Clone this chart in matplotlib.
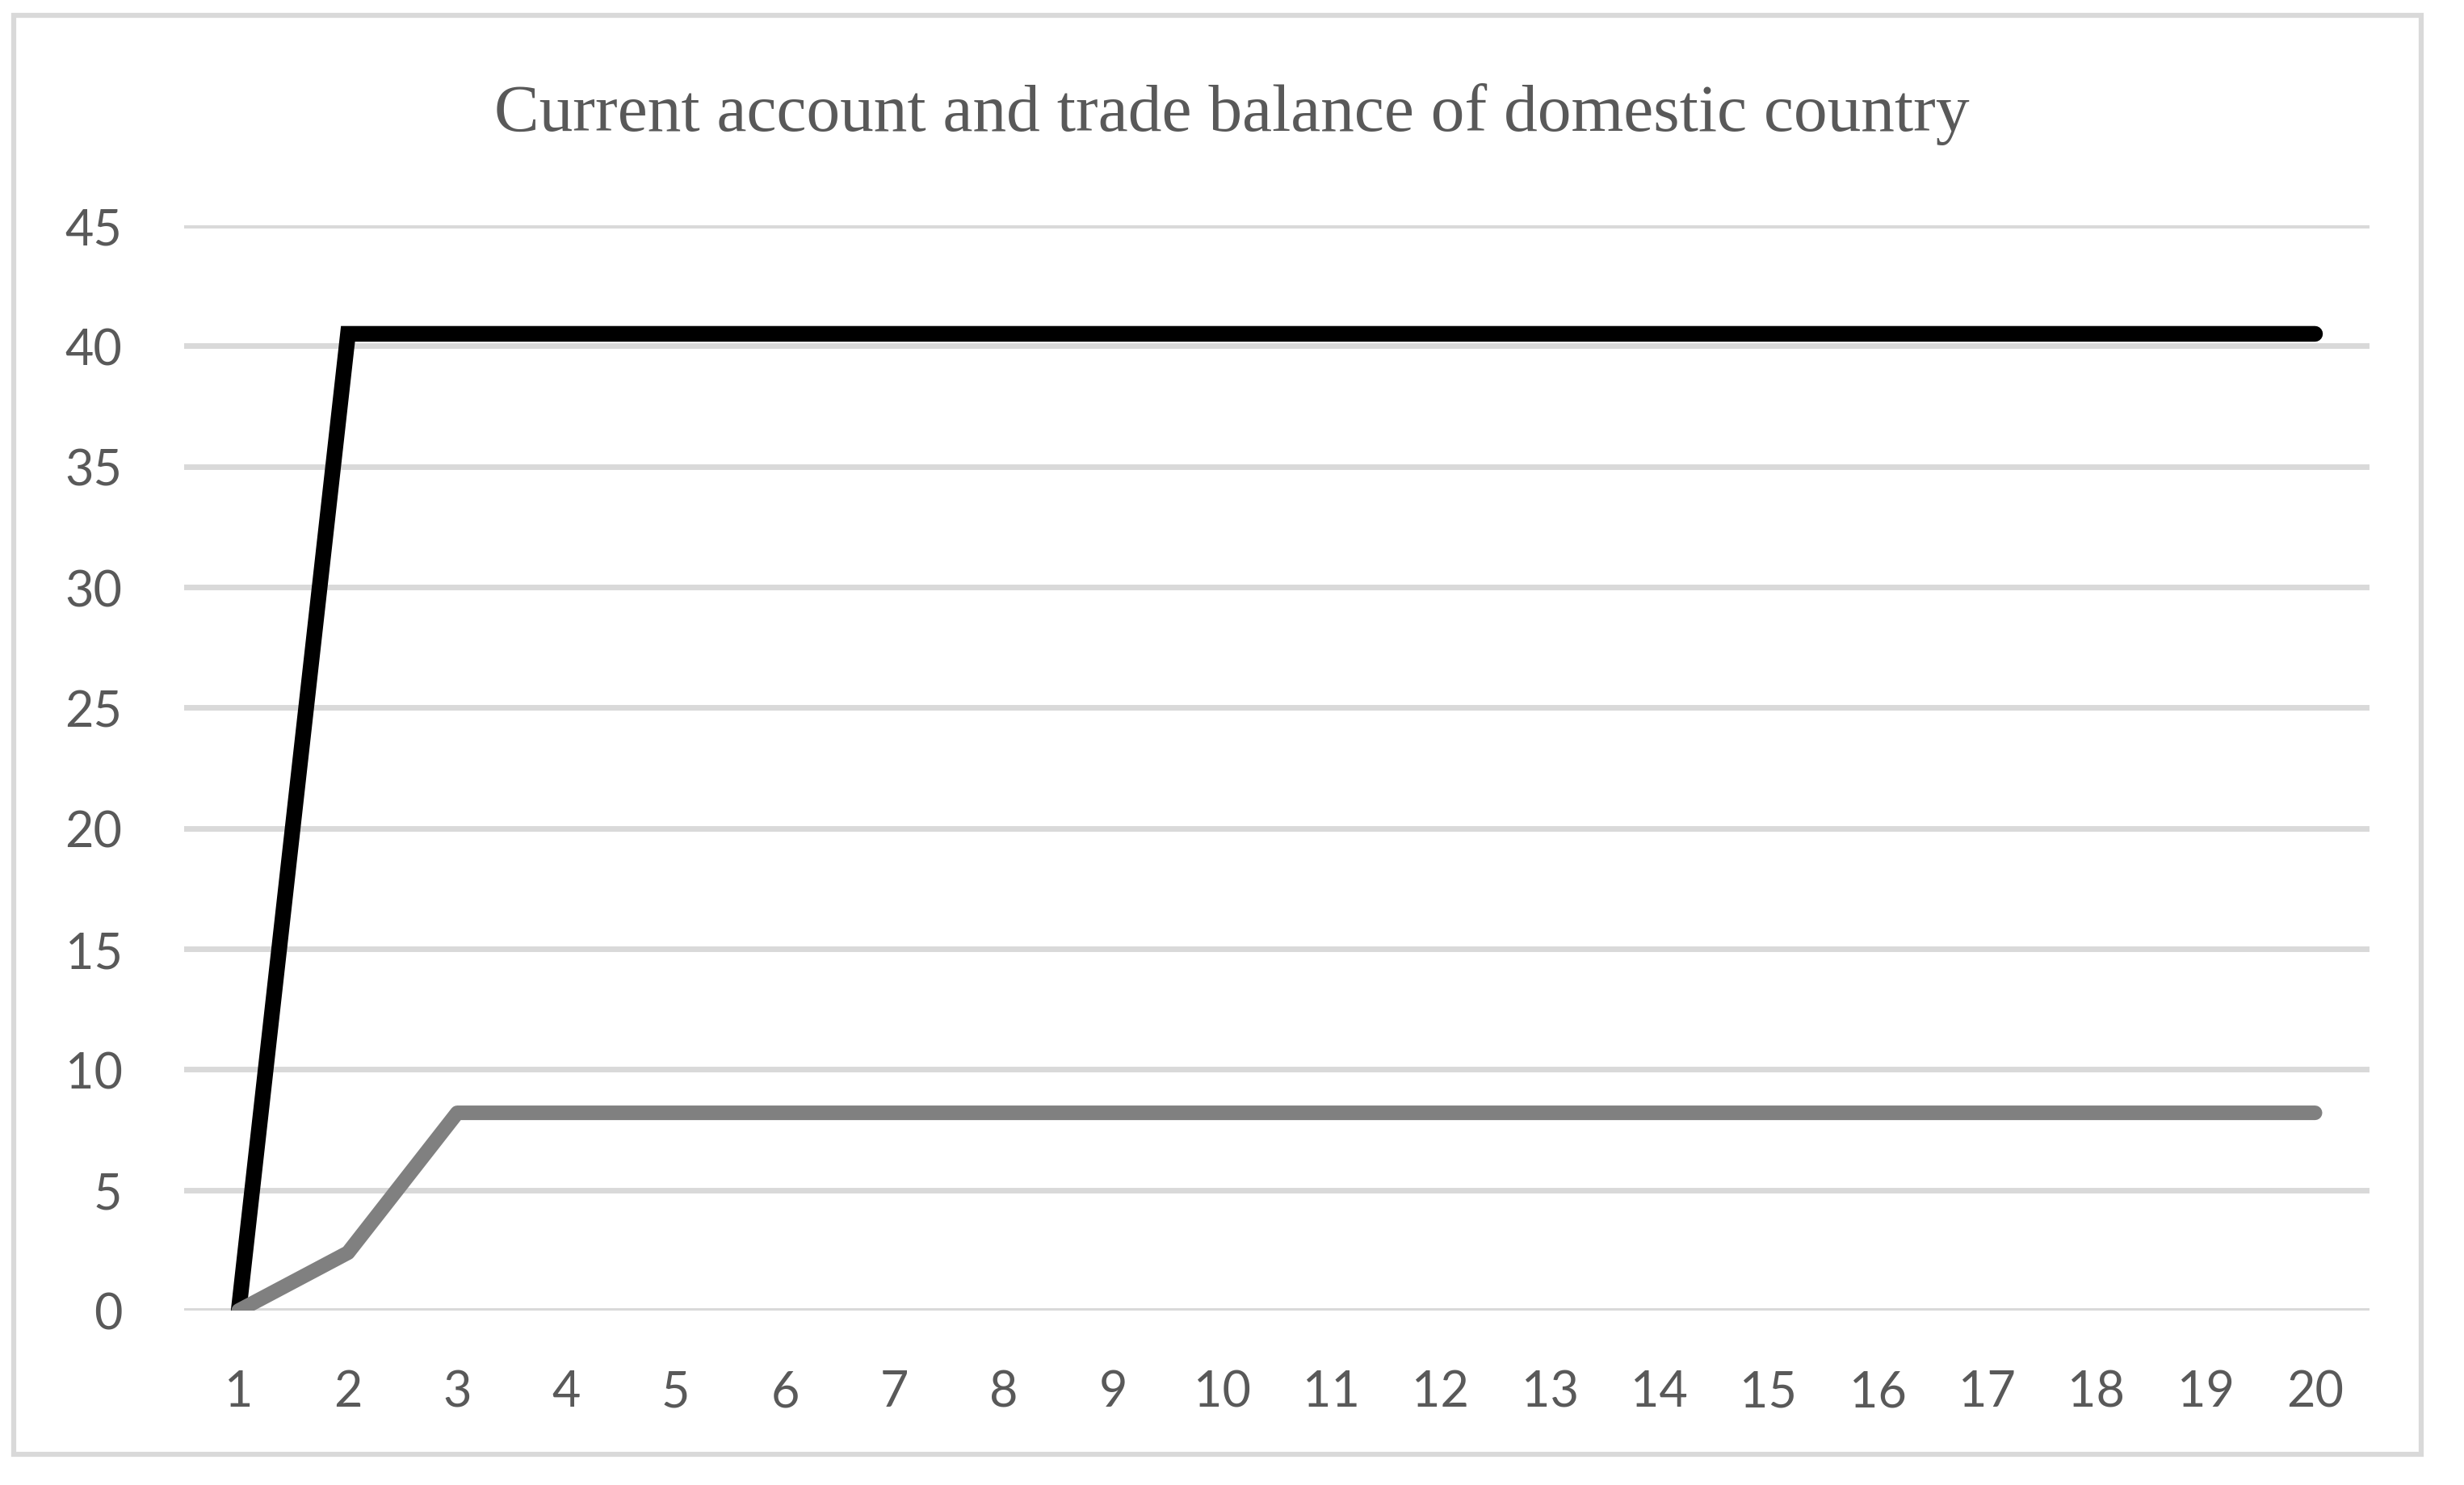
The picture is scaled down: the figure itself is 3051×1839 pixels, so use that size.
import matplotlib
matplotlib.use("Agg")
import matplotlib.pyplot as plt
from matplotlib.patches import Rectangle

# data
periods = list(range(1, 21))
current_account = [0, 40.5] + [40.5] * 18
trade_balance = [0, 2.4, 8.2] + [8.2] * 17
y_ticks = [0, 5, 10, 15, 20, 25, 30, 35, 40, 45]
title = "Current account and trade balance of domestic country"

TEXT = "#595959"
GRID = "#d9d9d9"

fig = plt.figure(figsize=(30.51, 18.40), dpi=100)
ax = fig.add_axes([0.0747, 0.1174, 0.887, 0.7304])

ax.plot(periods, current_account, color="black", lw=14,
        solid_capstyle="round", solid_joinstyle="miter", zorder=3)
ax.plot(periods, trade_balance, color="#808080", lw=13,
        solid_capstyle="round", solid_joinstyle="round", zorder=4)

ax.set_xlim(0.5, 20.5)
ax.set_ylim(0, 45)
ax.set_xticks(periods)
ax.set_yticks(y_ticks)
ax.grid(axis="y", color=GRID, lw=5, zorder=0)
ax.set_axisbelow(True)
for s in ax.spines.values():
    s.set_visible(False)
ax.tick_params(axis="both", length=0, labelsize=44, labelcolor=TEXT)
ax.tick_params(axis="y", pad=55)
ax.tick_params(axis="x", pad=52)
for lab in ax.get_xticklabels() + ax.get_yticklabels():
    lab.set_fontfamily("Lato")

fig.text(0.5, 0.912, title, ha="center", va="baseline", fontsize=60,
         color=TEXT, family="Liberation Serif")

# light grey frame round the whole chart, as in the spreadsheet export
fig.patches.append(Rectangle((0.0056, 0.0207), 0.977, 0.9683, transform=fig.transFigure,
                             fill=False, edgecolor=GRID, lw=4.5, zorder=0))

fig.savefig("out.png", dpi=100, facecolor="white")
